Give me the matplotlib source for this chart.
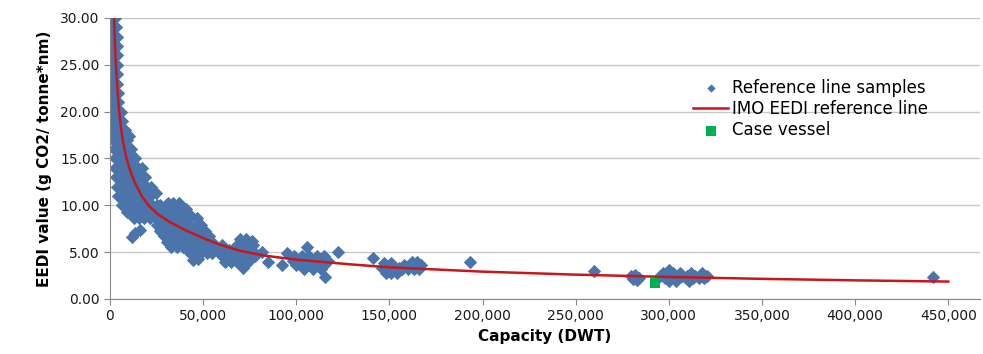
# EEDI of reference ships against capacity, with the IMO reference line
import matplotlib
matplotlib.use("Agg")
import matplotlib.pyplot as plt
from matplotlib.ticker import FuncFormatter, MultipleLocator

plt.rcParams['font.family'] = ['DejaVu Sans']

# reference line samples (DWT, EEDI)
small_ships = [
    (1500, 30), (2500, 30),
    (700, 29), (1800, 29), (3000, 29),
    (400, 28), (1400, 28), (2600, 28), (3500, 28),
    (300, 27), (1300, 27), (2400, 27), (3500, 27),
    (200, 26), (1200, 26), (2300, 26), (3500, 26),
    (100, 25), (1100, 25), (2300, 25), (3500, 25),
    (100, 24), (1200, 24), (2400, 24), (3700, 24),
    (200, 23), (1300, 23), (2600, 23), (3900, 23),
    (300, 22), (1500, 22), (2800, 22), (4100, 22),
    (500, 21), (1700, 21), (3000, 21), (4400, 21),
    (700, 20), (2000, 20), (3300, 20), (4800, 20), (6000, 20),
    (900, 19), (2200, 19), (3600, 19), (5000, 19), (6500, 19),
    (1200, 18), (2500, 18), (4000, 18), (5500, 18), (7000, 18), (8200, 18),
    (1600, 17), (2800, 17), (4200, 17), (5800, 17), (7400, 17), (9000, 17), (10000, 17.4),
    (2000, 16), (3200, 16), (4600, 16), (6200, 16), (7800, 16), (9500, 16), (11500, 16),
    (2500, 15), (3600, 15), (5000, 15), (6600, 15), (8300, 15), (10000, 15), (12000, 15), (13500, 15),
    (2800, 14), (4000, 14), (5500, 14), (7200, 14), (9000, 14), (11000, 14), (13000, 14),
    (15000, 14), (17000, 14),
    (3200, 13), (4500, 13), (6000, 13), (7800, 13), (9800, 13), (12000, 13), (14000, 13),
    (16500, 13), (19000, 13),
    (3800, 12), (5200, 12), (6800, 12), (8600, 12), (10500, 12), (12500, 12), (15000, 12),
    (17500, 12), (20000, 12), (22000, 12),
    (4500, 11), (6000, 11), (7800, 11), (9700, 11), (11700, 11), (14000, 11), (16500, 11),
    (19000, 11), (21500, 11), (24500, 11.3),
    (6500, 10), (8500, 10), (10500, 10), (12500, 10), (15000, 10), (17500, 10), (20000, 10),
    (22500, 10), (25000, 10), (27000, 10),
    (9000, 9.3), (11500, 9.3), (14000, 9.3), (16500, 9.3), (19000, 9.3), (21500, 9.3),
    (24000, 9.3), (26500, 9.3),
    (13000, 8.6), (15500, 8.6), (18500, 8.6), (21500, 8.6), (24500, 8.6), (27500, 8.6),
    (11600, 6.65), (13500, 7.0), (16100, 7.36),
]

handy_ships = [
    (31000, 10.2), (34000, 10.2), (37000, 10.2),
    (29000, 9.6), (32000, 9.6), (35000, 9.6), (38000, 9.6), (41000, 9.6),
    (28000, 9.0), (31000, 9.0), (34000, 9.0), (37000, 9.0), (40000, 9.0), (43000, 9.0),
    (30000, 8.5), (33000, 8.5), (36000, 8.5), (39000, 8.5), (42000, 8.5), (46500, 8.6),
    (25000, 7.9), (28000, 7.9), (31000, 7.9), (34000, 7.9), (37000, 7.9), (40000, 7.9),
    (43000, 7.9), (46000, 7.9), (49000, 7.9),
    (27000, 7.3), (30000, 7.3), (33000, 7.3), (36000, 7.3), (39000, 7.3), (42000, 7.3),
    (45000, 7.3), (48000, 7.3), (51000, 7.3),
    (29000, 6.7), (32000, 6.7), (35000, 6.7), (38000, 6.7), (41000, 6.7), (44000, 6.7),
    (47000, 6.7), (50000, 6.7), (53000, 6.7),
    (30500, 6.1), (33500, 6.1), (36500, 6.1), (39500, 6.1), (42500, 6.1), (45500, 6.1),
    (48500, 6.1), (51500, 6.1), (54500, 6.1),
    (33000, 5.5), (36000, 5.5), (39000, 5.5), (42000, 5.5), (45000, 5.5), (48000, 5.5),
    (51000, 5.5), (54000, 5.5),
    (43000, 4.9), (46000, 4.9), (49000, 4.9), (52000, 4.9), (55000, 4.9),
    (44600, 4.2), (47500, 4.3),
]

panamax_ships = [
    (70000, 6.4), (73000, 6.4), (76000, 6.2),
    (60000, 5.8), (68000, 5.8), (71000, 5.8), (74000, 5.8), (77000, 5.8),
    (58000, 5.2), (61000, 5.2), (64000, 5.2), (67000, 5.2), (70000, 5.2), (73000, 5.2), (76000, 5.2),
    (60000, 4.6), (63000, 4.6), (66000, 4.6), (69000, 4.6), (72000, 4.6), (75000, 4.6), (78000, 4.6),
    (62000, 4.0), (65000, 4.0), (68000, 4.0), (71000, 4.0), (74000, 4.0),
    (71300, 3.35),
    (81500, 5.0), (85000, 3.9), (92200, 3.6), (94900, 4.87),
]

post_panamax = [
    (99000, 4.6), (103000, 4.6), (107000, 4.6), (111000, 4.6), (115000, 4.6),
    (98000, 4.1), (101000, 4.1), (105000, 4.1), (109000, 4.1), (113000, 4.1), (117000, 4.1),
    (100000, 3.6), (103000, 3.6), (107000, 3.6), (111000, 3.6), (115000, 3.6),
    (104000, 3.2), (109000, 3.2), (113000, 3.2),
    (106000, 5.5), (115500, 2.3), (122600, 5.0), (141400, 4.4),
]

capesize = [
    (147000, 3.8), (151000, 3.8),
    (146000, 3.3), (149000, 3.3), (152000, 3.3), (155000, 3.3),
    (148000, 2.8), (151000, 2.8), (154000, 2.8),
    (162000, 4.0), (165000, 4.0),
    (158000, 3.6), (161000, 3.6), (164000, 3.6), (167000, 3.6),
    (157000, 3.2), (160000, 3.2), (163000, 3.2), (166000, 3.2),
    (193000, 4.0),
]

vlcc = [
    (259600, 2.95),
    (279500, 2.5), (282000, 2.6), (281000, 2.1), (284000, 2.2), (283000, 2.0),
    (300000, 3.1),
    (297000, 2.8), (302000, 2.8), (306000, 2.8), (312000, 2.8), (318000, 2.8),
    (295500, 2.5), (299000, 2.5), (303000, 2.5), (307000, 2.5), (310000, 2.5),
    (314000, 2.5), (317000, 2.5), (320500, 2.5),
    (298000, 2.2), (301000, 2.2), (305000, 2.2), (309000, 2.2), (313000, 2.2),
    (316000, 2.2), (319000, 2.2),
    (300000, 1.9), (304000, 1.9), (311000, 1.9),
    (442000, 2.3),
]

# IMO reference line
line_dwt = [2200, 2600, 3200, 4000, 4900, 5700, 6800, 8900, 11000, 13400, 17000,
            20600, 26000, 32200, 41000, 50000, 59000, 69800, 82300, 100000,
            128900, 150000, 200000, 250000, 300000, 350000, 400000, 450000]
line_eedi = [30, 27.5, 25, 22.4, 20.1, 18.6, 17, 15, 13.6, 12.4, 11,
             10, 9, 8.2, 7.3, 6.5, 5.8, 5.15, 4.65, 4.2,
             3.7, 3.38, 2.92, 2.6, 2.35, 2.15, 1.99, 1.86]

# the ship under study
case_dwt = [292300]
case_eedi = [1.74]

samples = small_ships + handy_ships + panamax_ships + post_panamax + capesize + vlcc
sample_dwt = [p[0] for p in samples]
sample_eedi = [p[1] for p in samples]

fig = plt.figure(figsize=(9.83, 3.54), dpi=100)
ax = fig.add_axes([0.1119, 0.1554, 0.885, 0.7938])

ax.scatter(sample_dwt, sample_eedi, marker='D', s=46, color='#4a74aa',
           linewidths=0, label='Reference line samples', zorder=2)
ax.plot(line_dwt, line_eedi, color='#c8161d', lw=1.8,
        label='IMO EEDI reference line', zorder=3)
ax.scatter(case_dwt, case_eedi, marker='s', s=50, color='#00b050',
           linewidths=0, label='Case vessel', zorder=4)

ax.set_xlim(0, 467000)
ax.set_ylim(0, 30)
ax.xaxis.set_major_locator(MultipleLocator(50000))
ax.yaxis.set_major_locator(MultipleLocator(5))
ax.xaxis.set_major_formatter(FuncFormatter(lambda v, p: f"{int(v):,}"))
ax.yaxis.set_major_formatter(FuncFormatter(lambda v, p: f"{v:.2f}"))
ax.tick_params(labelsize=10, colors='#888888', labelcolor='#1a1a1a', length=4)

ax.grid(axis='y', color='#c8c8c8', lw=1)
ax.set_axisbelow(True)
for side in ['top', 'right']:
    ax.spines[side].set_visible(False)
for side in ['left', 'bottom']:
    ax.spines[side].set_color('#888888')

ax.set_xlabel('Capacity (DWT)', fontsize=11, fontweight='bold', labelpad=4)
ax.set_ylabel('EEDI value (g CO2/ tonne*nm)', fontsize=11, fontweight='bold', labelpad=6)

leg = ax.legend(loc='center left', bbox_to_anchor=(693 / 983, 1 - 109 / 354),
                bbox_transform=fig.transFigure, frameon=False, fontsize=12,
                handlelength=2.1, handletextpad=0.25, labelspacing=0.2,
                borderpad=0, borderaxespad=0, scatterpoints=1)
# smaller diamond in the legend, as in the original
leg.legend_handles[0].set_sizes([18])
leg.legend_handles[2].set_sizes([42])

fig.savefig('out.png', dpi=100)
